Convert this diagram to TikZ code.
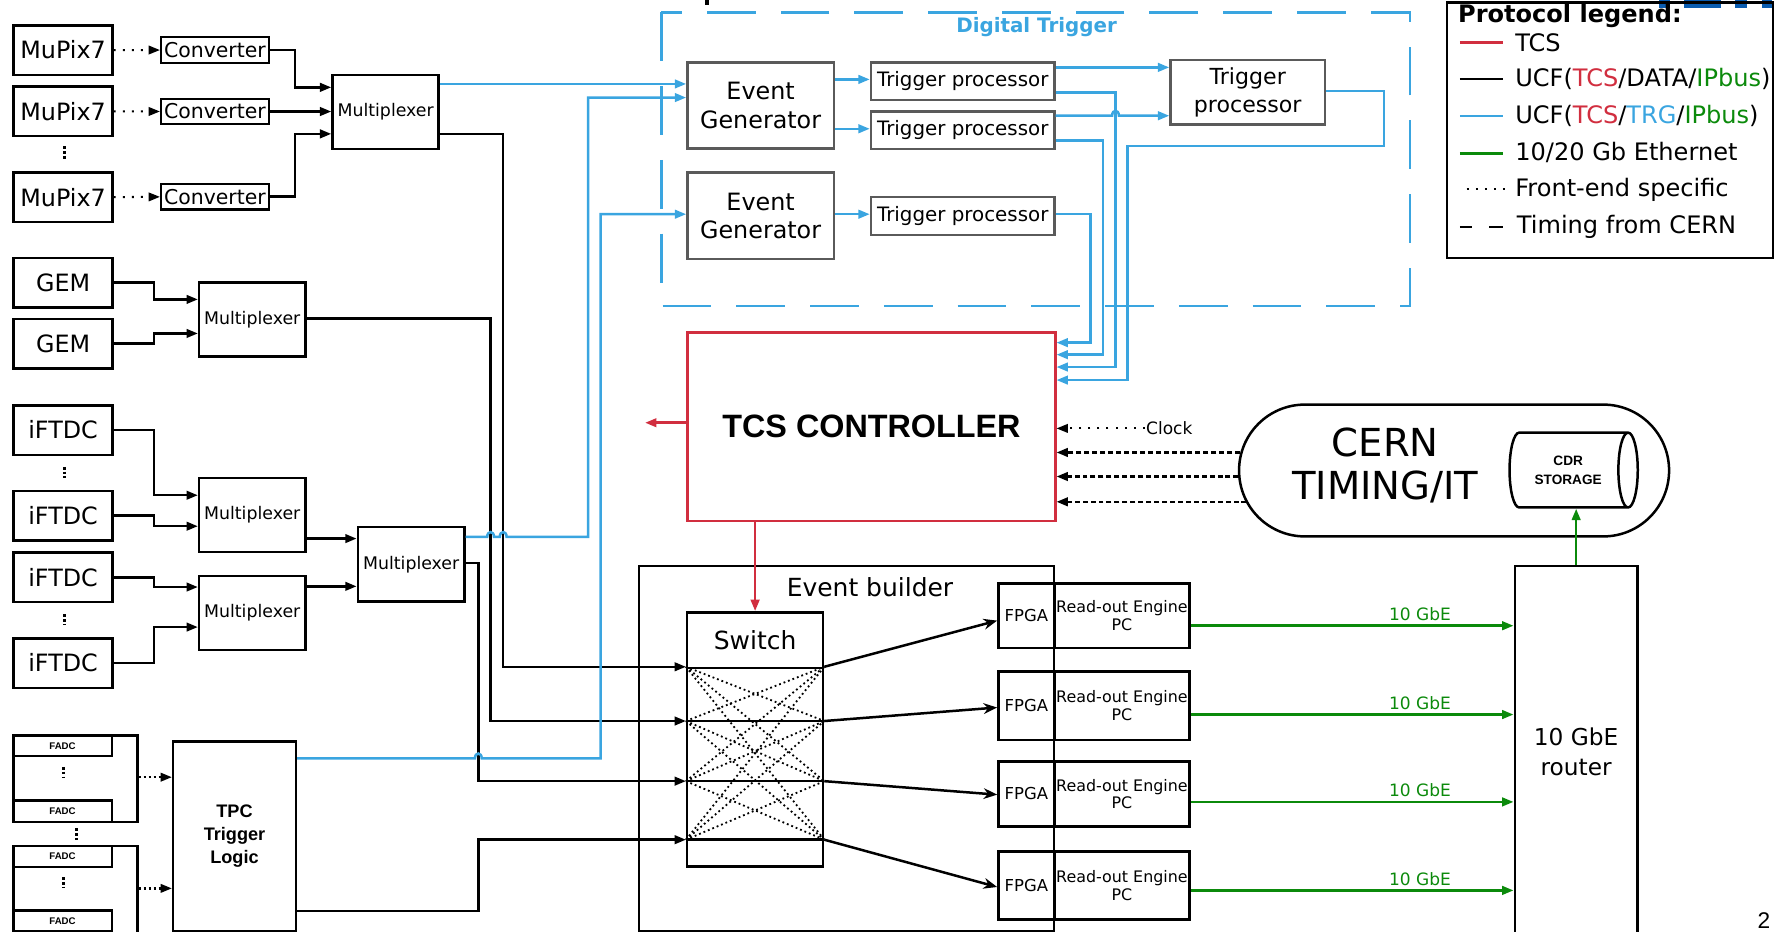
\documentclass[tikz,border=0pt]{standalone}
\usepackage{fontspec}
\setmainfont{DejaVu Sans}
\newfontfamily\arialfont{Liberation Sans}
\usetikzlibrary{arrows.meta,shapes.geometric}

\definecolor{tcsred}{HTML}{D12E3F}
\definecolor{trgblue}{HTML}{3AA5E0}
\definecolor{ethgreen}{HTML}{0B8A0B}
\definecolor{dtgray}{HTML}{5A5A5A}
\definecolor{logoblue}{HTML}{0A5CB0}

\newcommand{\fsz}[2]{\fontsize{#1}{#2}\selectfont}

\tikzset{
  box/.style={draw, line width=2.2pt, inner sep=0pt, anchor=north west, align=center},
  gbox/.style={box, draw=dtgray},
  front/.style={box, minimum width=87, minimum height=43.6, font=\fsz{21}{24}},
  conv/.style={box, line width=2pt, minimum width=95, minimum height=22.6, font=\fsz{18}{20}},
  mux/.style={box, minimum width=93.6, minimum height=65.3, font=\fsz{15.3}{18}},
  fadc/.style={box, line width=2pt, minimum width=87, minimum height=18.6, font=\arialfont\bfseries\fsz{8.5}{10}},
  trgproc/.style={gbox, minimum width=161.7, minimum height=33.3, font=\fsz{17.5}{19}},
  evgen/.style={gbox, minimum width=129, minimum height=76.2, font=\fsz{21}{25}},
  fpga/.style={box, minimum width=49.2, font=\fsz{14.5}{15.6}},
  roe/.style={box, minimum width=119.3, font=\fsz{14}{15.6}},
  legtext/.style={anchor=west, inner sep=0pt, font=\fsz{21.2}{24}, text height=15.5pt, text depth=4.5pt},
  wire/.style={line width=2.2pt},
  bwire/.style={line width=2.2pt, trgblue},
  rwire/.style={line width=2.2pt, tcsred},
  gwire/.style={line width=2.2pt, ethgreen},
  feline/.style={line width=1.8pt, dash pattern=on 1.8pt off 6.2pt},
  fedots/.style={line width=2pt, dash pattern=on 2pt off 2.4pt},
  timing/.style={line width=2.2pt, dash pattern=on 4.4pt off 2.6pt},
  xdots/.style={line width=1.6pt, dash pattern=on 1.6pt off 2.6pt},
  vdot/.style={line width=2.6pt, dash pattern=on 2.4pt off 1.8pt},
  arr/.style={-{Triangle[length=10pt,width=7.5pt]}},
  sarr/.style={-{Stealth[length=12pt,width=9.5pt]}},
}

\begin{document}
\begin{tikzpicture}[x=1pt, y=-1pt]
    \useasboundingbox (0,0) rectangle (1568,820.6);

    % Cut-off pieces at the top edge
    \fill (621,0) rectangle (625,4);
    \fill[logoblue] (1462,0) rectangle (1471.5,7.4);
    \fill[logoblue] (1484,0) rectangle (1517,7.4);
    \fill[logoblue] (1529.5,0) rectangle (1540,7.4);
    \fill[logoblue] (1553,0) rectangle (1562,7.4);

    % MuPix7 telescope
    \node[front] (mupixA) at (11,21.2) {MuPix7};
    \node[front] (mupixB) at (11,75.3) {MuPix7};
    \node[front] (mupixC) at (11,151) {MuPix7};
    \draw[vdot] (56.7,129) -- (56.7,140);
    \node[conv] (convA) at (141,31.8) {Converter};
    \node[conv] (convB) at (141,86) {Converter};
    \node[conv] (convC) at (141,161) {Converter};
    \node[mux] (muxA) at (292,65) {Multiplexer};

    % GEM
    \node[front] (gemA) at (11,226.2) {GEM};
    \node[front] (gemB) at (11,280) {GEM};
    \node[mux] (muxB) at (174.4,247.7) {Multiplexer};

    % iFTDC
    \node[front] (ftdcA) at (11,356.2) {iFTDC};
    \node[front] (ftdcB) at (11,431.5) {iFTDC};
    \node[front] (ftdcC) at (11,486) {iFTDC};
    \node[front] (ftdcD) at (11,561.5) {iFTDC};
    \draw[vdot] (56.7,411.5) -- (56.7,421);
    \draw[vdot] (56.7,541.5) -- (56.7,550.3);
    \node[mux] (muxC) at (174.4,420.3) {Multiplexer};
    \node[mux] (muxD) at (174.4,506.5) {Multiplexer};
    \node[mux, minimum width=94] (muxE) at (314.3,463.6) {Multiplexer};

    % FADC crates and TPC trigger logic
    \node[box, minimum width=109.4, minimum height=76.5] (fadcgrpA) at (10.6,647) {};
    \node[fadc] (fadcA1) at (10.6,647) {FADC};
    \node[fadc] (fadcA2) at (10.6,704.6) {FADC};
    \draw[vdot] (56.3,676) -- (56.3,686);
    \draw[vdot] (67.7,730) -- (67.7,740);
    \node[box, minimum width=109.4, minimum height=80] (fadcgrpB) at (10.6,744.6) {};
    \node[fadc] (fadcB1) at (10.6,744.6) {FADC};
    \node[fadc] (fadcB2) at (10.6,801.4) {FADC};
    \draw[vdot] (56.3,773) -- (56.3,783);
    \node[box, minimum width=108.2, minimum height=167.1,
          font=\arialfont\bfseries\fsz{16}{20}] (tpc) at (151.5,652.3) {TPC\\Trigger\\Logic};

    % Digital trigger
    \draw[trgblue, line width=2pt, dash pattern=on 43pt off 22pt] (583,11) rectangle (1243,270);
    \node[trgblue, font=\bfseries\fsz{17.5}{20}] (dttitle) at (913.6,23.5) {Digital Trigger};
    \node[evgen] (egA) at (604.8,53.8) {Event\\Generator};
    \node[evgen] (egB) at (604.8,151) {Event\\Generator};
    \node[trgproc] (tpA) at (766.6,53.8) {Trigger processor};
    \node[trgproc] (tpB) at (766.6,97) {Trigger processor};
    \node[trgproc] (tpC) at (766.6,172.6) {Trigger processor};
    \node[gbox, minimum width=136, minimum height=56.8, font=\fsz{19.5}{24.7}] (tpD) at (1030.6,52) {Trigger\\processor};

    % TCS controller and CERN
    \node[box, draw=tcsred, minimum width=324, minimum height=166,
          font=\arialfont\bfseries\fsz{28.5}{30}] (tcs) at (605,292) {TCS CONTROLLER};
    \coordinate (tcsout) at (568.6,372.6);
    \node[box, rounded corners=58pt, minimum width=379, minimum height=116.2] (cern) at (1091,355.5) {};
    \node[align=center, font=\fsz{34}{38}] (cerntxt) at (1221,410) {CERN\\TIMING/IT};
    \node[draw, cylinder, line width=2.2pt, minimum width=66, minimum height=113, aspect=0.67,
          inner sep=0pt, align=center, anchor=shape center,
          font=\arialfont\bfseries\fsz{12}{17}] (cdr) at (1387,414.3) {CDR\\STORAGE};
    \node[anchor=west, inner sep=1pt, font=\fsz{15}{18}] (clock) at (1009,377.6) {Clock};

    % Event builder
    \node[box, minimum width=366, minimum height=321.8] (evb) at (562,497.7) {};
    \node[font=\fsz{22}{26}] (evbtitle) at (766.8,517.7) {Event builder};
    \node[box, minimum width=119.7, minimum height=49.1, font=\fsz{22}{26}] (switch) at (604.6,538.6) {Switch};
    \node[box, minimum width=119.7, minimum height=175] (swbody) at (604.6,587.7) {};
    \node[fpga, minimum height=56.8] (fpgaA) at (878.9,513.3) {FPGA};
    \node[roe, minimum height=56.8] (roeA) at (928.1,513.3) {Read-out Engine\\PC};
    \node[fpga, minimum height=60.3] (fpgaB) at (878.9,590.7) {FPGA};
    \node[roe, minimum height=60.3] (roeB) at (928.1,590.7) {Read-out Engine\\PC};
    \node[fpga, minimum height=57.4] (fpgaC) at (878.9,670) {FPGA};
    \node[roe, minimum height=57.4] (roeC) at (928.1,670) {Read-out Engine\\PC};
    \node[fpga, minimum height=59.7] (fpgaD) at (878.9,749.5) {FPGA};
    \node[roe, minimum height=59.7] (roeD) at (928.1,749.5) {Read-out Engine\\PC};
    \node[box, minimum width=108.2, minimum height=328, font=\fsz{20.5}{26.5}] (router) at (1334,497.7) {10 GbE\\router};

    % Switch matrix
    \foreach \i/\y in {1/587.7, 2/635.5, 3/688.5, 4/740.1} {
        \coordinate (swl\i) at (swbody.west |- 0,\y);
        \coordinate (swr\i) at (swbody.east |- 0,\y);
    }
    \foreach \i in {2,3,4}
        \draw[wire] (swl\i) -- (swr\i);
    \foreach \i in {1,...,4}
        \foreach \j in {1,...,4} {
            \ifnum\i=\j\else \draw[xdots] (swl\i) -- (swr\j);\fi
        }

    % Front-end specific links
    \draw[feline, arr] (mupixA) -- (convA);
    \draw[feline, arr] (mupixB) -- (convB);
    \draw[feline, arr] (mupixC) -- (convC);
    \draw[fedots, arr] (fadcgrpA.east |- 0,685) -- (tpc.west |- 0,685);
    \draw[fedots, arr] (fadcgrpB.east |- 0,783) -- (tpc.west |- 0,783);

    % Data links to the multiplexers
    \draw[wire, arr] (convA.east) -| (260,77) -- (muxA.west |- 0,77);
    \draw[wire, arr] (convB.east) -- (muxA.west |- convB.east);
    \draw[wire, arr] (convC.east) -| (260,118) -- (muxA.west |- 0,118);
    \draw[wire, arr] (gemA.east) -| (135.6,263.9) -- (muxB.west |- 0,263.9);
    \draw[wire, arr] (gemB.east) -| (135.6,293.9) -- (muxB.west |- 0,293.9);
    \draw[wire, arr] (ftdcA.east) -| (135.6,436.5) -- (muxC.west |- 0,436.5);
    \draw[wire, arr] (ftdcB.east) -| (135.6,463.8) -- (muxC.west |- 0,463.8);
    \draw[wire, arr] (ftdcC.east) -| (135.6,517.4) -- (muxD.west |- 0,517.4);
    \draw[wire, arr] (ftdcD.east) -| (135.6,552.7) -- (muxD.west |- 0,552.7);
    \draw[wire, arr] (muxC.east |- 0,474.7) -- (muxE.west |- 0,474.7);
    \draw[wire, arr] (muxD.east |- 0,516.8) -- (muxE.west |- 0,516.8);

    % Data links to the switch
    \draw[wire, arr] (muxA.east |- 0,118) -| (443.5,587.7) -- (swl1);
    \draw[wire, arr] (muxB.east |- 0,280.6) -| (432.4,635.5) -- (swl2);
    \draw[wire, arr] (muxE.east |- 0,496.2) -| (421.6,688.5) -- (swl3);
    \draw[wire, arr] (tpc.east |- 0,803) -| (421.6,740.1) -- (swl4);

    % Trigger links
    \draw[bwire, arr] (muxA.east |- 0,74) -- (egA.west |- 0,74);
    \draw[bwire, arr] (muxE.east |- 0,473.3) -- (429.4,473.3)
        .. controls (429.4,467.5) and (435.4,467.5) .. (435.4,473.3) -- (440.5,473.3)
        .. controls (440.5,467.5) and (446.5,467.5) .. (446.5,473.3) -- (518.4,473.3)
        |- (egA.west |- 0,86);
    \draw[bwire, arr] (tpc.east |- 0,668.5) -- (418.6,668.5)
        .. controls (418.6,662.7) and (424.6,662.7) .. (424.6,668.5) -- (529.3,668.5)
        |- (egB.west |- 0,188.8);
    \draw[bwire, arr] (egA.east |- 0,70) -- (tpA.west |- 0,70);
    \draw[bwire, arr] (egA.east |- 0,113.5) -- (tpB.west |- 0,113.5);
    \draw[bwire, arr] (egB.east |- 0,188.8) -- (tpC.west |- 0,188.8);
    \draw[bwire, arr] (tpA.east |- 0,59.4) -- (tpD.west |- 0,59.4);
    \draw[bwire, arr] (tpB.east |- 0,102) -- (980.2,102)
        .. controls (980.2,96.2) and (986.2,96.2) .. (986.2,102) -- (tpD.west |- 0,102);
    \draw[bwire, arr] (tpC.east |- 0,188.8) -| (961,302) -- (tcs.east |- 0,302);
    \draw[bwire, arr] (tpB.east |- 0,124) -| (972,312.6) -- (tcs.east |- 0,312.6);
    \draw[bwire, arr] (tpA.east |- 0,81.5) -| (983.2,323.5) -- (tcs.east |- 0,323.5);
    \draw[bwire, arr] (tpD.east |- 0,80) -| (1220,128.8) -| (993.8,335) -- (tcs.east |- 0,335);

    % TCS links
    \draw[rwire, arr] (tcs.west |- tcsout) -- (tcsout);
    \draw[rwire, arr] (tcs.south -| switch.north) -- (switch.north);

    % Timing from CERN
    \draw[feline, arr] (clock.west) -- (tcs.east |- clock.west);
    \foreach \x/\y [count=\k] in {1093/398.8, 1091.5/420, 1098.6/442.3} {
        \coordinate (tm\k) at (\x,\y);
        \draw[timing, arr] (tm\k) -- (tcs.east |- tm\k);
    }

    % Switch to read-out engines
    \draw[wire, sarr] (swr1) -- (fpgaA.west |- 0,547);
    \draw[wire, sarr] (swr2) -- (fpgaB.west |- 0,623.6);
    \draw[wire, sarr] (swr3) -- (fpgaC.west |- 0,700.4);
    \draw[wire, sarr] (swr4) -- (fpgaD.west |- 0,781.8);

    % 10 GbE links
    \foreach \r/\y in {roeA/551.5, roeB/629.8, roeC/706.8, roeD/784.8}
        \draw[gwire, arr] (\r.east |- 0,\y) -- node[pos=0.71, above, font=\fsz{15}{18}] {10 GbE} (router.west |- 0,\y);
    \draw[gwire, arr] (router.north) -- (cdr.south -| router.north);

    % Protocol legend
    \node[box, minimum width=287.6, minimum height=225.5] (legend) at (1274.2,1) {};
    \node[legtext, font=\bfseries\fsz{21.2}{24}] (legtitle) at (1285,14) {Protocol legend:};
    \draw[rwire] (1286.8,37.4) -- (1325,37.4);
    \node[legtext] (legA) at (1335.4,40) {TCS};
    \draw[wire] (1286.8,69.7) -- (1325,69.7);
    \node[legtext] (legB) at (1335.4,70.5) {UCF(\textcolor{tcsred}{TCS}/DATA/\textcolor{ethgreen}{IPbus})};
    \draw[bwire] (1286.8,102.4) -- (1325,102.4);
    \node[legtext] (legC) at (1335.4,103.5) {UCF(\textcolor{tcsred}{TCS}/\textcolor{trgblue}{TRG}/\textcolor{ethgreen}{IPbus})};
    \draw[gwire] (1286.8,135.3) -- (1325,135.3);
    \node[legtext] (legD) at (1335.4,136.4) {10/20 Gb Ethernet};
    \draw[feline] (1292.7,167) -- (1328,167);
    \node[legtext] (legE) at (1335.4,167.5) {Front-end specific};
    \draw[wire] (1286.8,200) -- (1297.1,200) (1312.7,200) -- (1325.1,200);
    \node[legtext] (legF) at (1336.8,200) {Timing from CERN};

    \node[font=\arialfont\fsz{20}{24}] (pagenum) at (1554.6,811.3) {2};
\end{tikzpicture}
\end{document}
